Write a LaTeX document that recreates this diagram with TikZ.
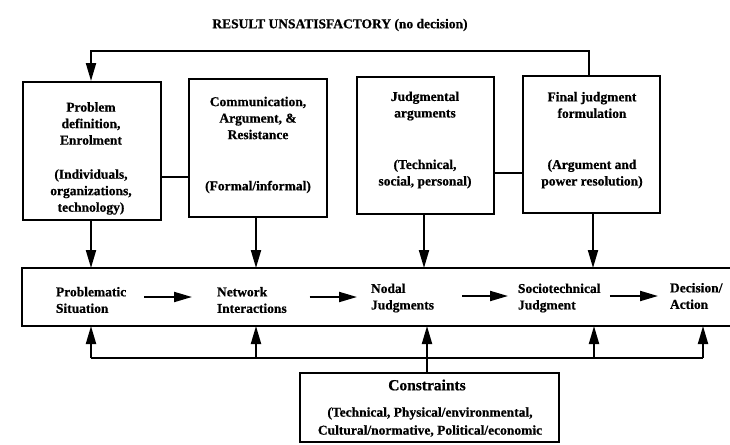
\documentclass[tikz,border=0pt]{standalone}
\usepackage{fontspec}
\setmainfont{Liberation Serif}[BoldFeatures={FakeBold=0.6}]
\usetikzlibrary{arrows.meta}

\begin{document}
\begin{tikzpicture}[x=1pt,y=-1pt,
  line width=2pt,
  stagebox/.style={draw,line width=2pt,minimum width=138pt,minimum height=138pt,inner sep=0pt},
  boxtext/.style={align=center,inner sep=0pt,font=\bfseries\fontsize{13.5}{16.5}\selectfont},
  bandtext/.style={align=left,anchor=west,inner sep=0pt,font=\bfseries\fontsize{13.5}{16.5}\selectfont},
  flow/.style={-{Triangle[length=18pt,width=10pt]},line width=2pt},
  link/.style={line width=2pt}]

% page
\useasboundingbox (0,0) rectangle (730,444);
\fill[white] (0,0) rectangle (730,444);

% feedback label
\node[inner sep=0pt,font=\bfseries\fontsize{13.5}{16}\selectfont] (title) at (340,25)
  {RESULT UNSATISFACTORY (no decision)};

% upper stage boxes
\node[stagebox] (b1) at (92,151) {};
\node[stagebox] (b2) at (258,148) {};
\node[stagebox,minimum width=137pt,minimum height=137pt] (b3) at (425.5,145.5) {};
\node[stagebox,minimum width=137pt,minimum height=137pt] (b4) at (591.5,144.5) {};

\node[boxtext] (b1h) at (91,123.5) {Problem\\definition,\\Enrolment};
\node[boxtext] (b1s) at (91,192) {(Individuals,\\organizations,\\technology)};
\node[boxtext] (b2h) at (258,118) {Communication,\\Argument, \&\\Resistance};
\node[boxtext] (b2s) at (258,187) {(Formal/informal)};
\node[boxtext] (b3h) at (425,106) {Judgmental\\arguments};
\node[boxtext] (b3s) at (425,174) {(Technical,\\social, personal)};
\node[boxtext] (b4h) at (592,105) {Final judgment\\formulation};
\node[boxtext] (b4s) at (592,174) {(Argument and\\power resolution)};

% links between neighbouring boxes
\draw[link] ([yshift=-26pt]b1.east) -- ([yshift=-26pt]b1.east -| b2.west);
\draw[link] ([yshift=-27.5pt]b3.east) -- ([yshift=-27.5pt]b3.east -| b4.west);

% process band (open to the right)
\node[minimum width=707pt,minimum height=56pt,inner sep=0pt] (band) at (376.5,297) {};
\draw[link] (band.north east) -| (band.south west) -- (band.south east);

\node[bandtext] (ps) at (55,300) {Problematic\\Situation};
\node[bandtext] (ni) at (216,300) {Network\\Interactions};
\node[bandtext] (nj) at (370,298) {Nodal\\Judgments};
\node[bandtext] (sj) at (517,298) {Sociotechnical\\Judgment};
\node[bandtext] (da) at (669,296) {Decision/\\Action};

\draw[flow] ([xshift=17pt,yshift=3pt]ps.east) -- ([xshift=-24pt,yshift=3pt]ni.west);
\draw[flow] ([xshift=22pt,yshift=3pt]ni.east) -- ([xshift=-13pt,yshift=1pt]nj.west);
\draw[flow] ([xshift=27pt,yshift=2pt]nj.east) -- ([xshift=-9pt,yshift=2pt]sj.west);
\draw[flow] ([xshift=8.5pt,yshift=2pt]sj.east) -- ([xshift=-11pt,yshift=0pt]da.west);

% boxes feed the band
\draw[flow] ([xshift=-1pt]b1.south) -- ([xshift=-1pt]b1.south |- band.north);
\draw[flow] ([xshift=-2pt]b2.south) -- ([xshift=-2pt]b2.south |- band.north);
\draw[flow] ([xshift=-1.5pt]b3.south) -- ([xshift=-1.5pt]b3.south |- band.north);
\draw[flow] ([xshift=1.5pt]b4.south) -- ([xshift=1.5pt]b4.south |- band.north);

% loop back when the result is unsatisfactory
\coordinate (loopR) at (589,51);
\draw[flow] (b4.north -| loopR) -- (loopR) -| ([xshift=-1pt]b1.north);

% constraints
\node[draw,line width=2pt,minimum width=259pt,minimum height=69pt,inner sep=0pt] (con) at (429.5,407.5) {};
\node[inner sep=0pt,font=\bfseries\fontsize{15.5}{18}\selectfont] (conh) at (427,385) {Constraints};
\node[align=center,inner sep=0pt,font=\bfseries\fontsize{13.5}{18}\selectfont] (cons) at (430,422)
  {(Technical, Physical/environmental,\\Cultural/normative, Political/economic};

\coordinate (busL) at (91,358);
\coordinate (busR) at (703,358);
\draw[link] (busL) -- (busR);
\draw[flow] (busL) -- (busL |- band.south);
\draw[flow] (256,358) -- (256,358 |- band.south);
\draw[flow] (594,358) -- (594,358 |- band.south);
\draw[flow] (busR) -- (busR |- band.south);
\draw[flow] ([xshift=-2.5pt]con.north) -- ([xshift=-2.5pt]con.north |- band.south);
\end{tikzpicture}
\end{document}
